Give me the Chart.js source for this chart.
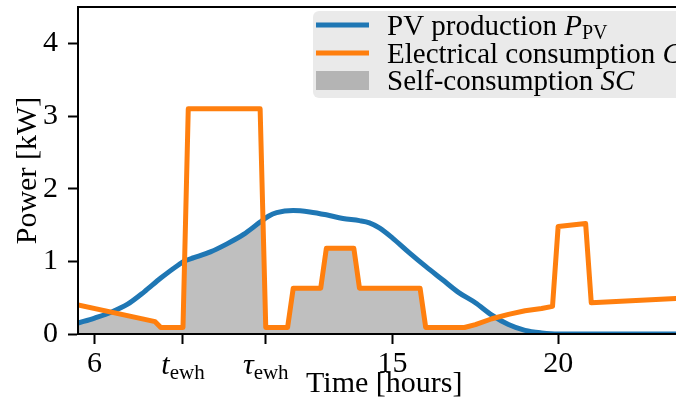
<!DOCTYPE html>
<html>
<head>
<meta charset="utf-8">
<script src="https://cdn.jsdelivr.net/npm/chart.js@4.4.1/dist/chart.umd.min.js"></script>
<style>
  html, body { margin: 0; padding: 0; background: #fff; overflow: hidden; }
  canvas { display: block; }
</style>
</head>
<body>
<canvas id="powerChart" width="700" height="405"></canvas>
<script>
// PV production (kW)
const pvTimes  = [5.5, 6.0, 6.5, 7.0, 7.5, 8.0, 8.5, 8.75, 9.0, 9.5, 10.0, 10.5, 11.0, 11.25, 11.5, 12.0, 12.5, 13.0, 13.5, 14.0, 14.3, 14.6, 15.0, 15.5, 16.0, 16.5, 17.0, 17.5, 18.0, 18.5, 19.0, 19.5, 20.0, 24.0];
const pvValues = [0.15, 0.22, 0.30, 0.41, 0.58, 0.77, 0.94, 1.01, 1.05, 1.13, 1.24, 1.37, 1.54, 1.62, 1.67, 1.70, 1.68, 1.64, 1.59, 1.56, 1.53, 1.46, 1.32, 1.12, 0.93, 0.75, 0.57, 0.43, 0.26, 0.13, 0.05, 0.015, 0.0, 0.0];

// electrical consumption (kW)
const consumptionTimes  = [5.5, 7.83, 8.0, 8.67, 8.83, 11.0, 11.17, 11.83, 12.0, 12.83, 13.0, 13.83, 14.0, 15.83, 16.0, 17.17, 17.5, 18.0, 18.5, 19.0, 19.5, 19.83, 20.0, 20.83, 21.0, 24.0];
const consumptionValues = [0.40, 0.17, 0.09, 0.09, 3.1, 3.1, 0.09, 0.09, 0.63, 0.63, 1.18, 1.18, 0.63, 0.63, 0.09, 0.09, 0.13, 0.21, 0.27, 0.32, 0.35, 0.38, 1.48, 1.52, 0.43, 0.50];

const xTickValues = [6, 8.67, 11.17, 15, 20];
const xTickLabels = ['6', 't_ewh', 'τ_ewh', '15', '20'];
const yTickValues = [0, 1, 2, 3, 4];

const legendLabels = [
    [['PV production ', 'r'], ['P', 'i'], ['PV', 'sub']],
    [['Electrical consumption ', 'r'], ['C', 'i']],
    [['Self-consumption ', 'r'], ['SC', 'i']]
];

const family = "'Liberation Serif', 'DejaVu Serif', serif";
const fontSize = 30;
const legendSize = 29;
const blue = '#1f77b4';
const orange = '#ff7f0e';
const grey = 'rgba(128, 128, 128, 0.5)';

function toPoints(xs, ys) {
    return xs.map(function (x, i) { return { x: x, y: ys[i] }; });
}

function fontFor(style, size) {
    if (style === 'i') return 'italic ' + size + 'px ' + family;
    if (style === 'sub') return Math.round(size * 0.7) + 'px ' + family;
    return size + 'px ' + family;
}

function richWidth(ctx, parts, size) {
    let w = 0;
    parts.forEach(function (p) {
        ctx.font = fontFor(p[1], size);
        w += ctx.measureText(p[0]).width;
    });
    return w;
}

function drawRich(ctx, parts, x, baseline, size) {
    let cx = x;
    ctx.textBaseline = 'alphabetic';
    ctx.textAlign = 'left';
    parts.forEach(function (p) {
        ctx.font = fontFor(p[1], size);
        const dy = p[1] === 'sub' ? size * 0.16 : 0;
        ctx.fillText(p[0], cx, baseline + dy);
        cx += ctx.measureText(p[0]).width;
    });
}

// shade only where the PV area is also under the consumption line
const scClip = {
    id: 'scClip',
    beforeDatasetsDraw(chart) {
        const pts = chart.getDatasetMeta(1).data;
        const y0 = chart.scales.y.getPixelForValue(0);
        const ctx = chart.ctx;
        ctx.save();
        ctx.beginPath();
        ctx.moveTo(pts[0].x, y0);
        pts.forEach(function (p) { ctx.lineTo(p.x, p.y); });
        ctx.lineTo(pts[pts.length - 1].x, y0);
        ctx.closePath();
        ctx.clip();
    },
    afterDatasetDraw(chart, args) {
        if (args.index === 2) chart.ctx.restore();
    }
};

const decorations = {
    id: 'decorations',
    afterDraw(chart) {
        const ctx = chart.ctx;
        const area = chart.chartArea;
        ctx.save();

        // top and right spines
        ctx.strokeStyle = '#000';
        ctx.lineWidth = 2;
        ctx.beginPath();
        ctx.moveTo(area.left - 1, area.top);
        ctx.lineTo(area.right, area.top);
        ctx.lineTo(area.right, area.bottom);
        ctx.stroke();

        // math tick labels on the time axis
        const xs = chart.scales.x;
        const labelY = xs.top + 10 + 2 + fontSize * 1.2 / 2 + fontSize * 0.3375;
        ctx.fillStyle = '#000';
        xTickLabels.forEach(function (lab, i) {
            if (lab.indexOf('_') < 0) return;
            const bits = lab.split('_');
            const parts = [[bits[0], 'i'], [bits[1], 'sub']];
            const w = richWidth(ctx, parts, fontSize);
            drawRich(ctx, parts, xs.getPixelForValue(xTickValues[i]) - w / 2, labelY, fontSize);
        });

        // legend
        const boxX = 313, boxY = 11, boxW = 420, boxH = 87;
        ctx.fillStyle = 'rgba(229, 229, 229, 0.8)';
        ctx.beginPath();
        ctx.roundRect(boxX, boxY, boxW, boxH, 6);
        ctx.fill();

        const rows = [25, 53, 80];
        const ds = chart.data.datasets;
        rows.forEach(function (ry, i) {
            if (i < 2) {
                ctx.strokeStyle = ds[i].borderColor;
                ctx.lineWidth = 5;
                ctx.beginPath();
                ctx.moveTo(316, ry);
                ctx.lineTo(369, ry);
                ctx.stroke();
            } else {
                ctx.fillStyle = ds[2].backgroundColor;
                ctx.fillRect(316, ry - 9, 53, 19);
            }
            ctx.fillStyle = '#000';
            drawRich(ctx, legendLabels[i], 387, ry + legendSize * 0.33, legendSize);
        });
        ctx.restore();
    }
};

const font = { family: family, size: fontSize };

new Chart(document.getElementById('powerChart'), {
    type: 'line',
    data: {
        datasets: [
            {
                label: 'PV production',
                data: toPoints(pvTimes, pvValues),
                borderColor: blue,
                borderWidth: 5,
                pointRadius: 0,
                cubicInterpolationMode: 'monotone',
                fill: false,
                order: 1
            },
            {
                label: 'Electrical consumption',
                data: toPoints(consumptionTimes, consumptionValues),
                borderColor: orange,
                borderWidth: 5,
                borderJoinStyle: 'round',
                pointRadius: 0,
                tension: 0,
                fill: false,
                order: 0
            },
            {
                label: 'Self-consumption',
                data: toPoints(pvTimes, pvValues),
                borderColor: 'transparent',
                borderWidth: 0,
                backgroundColor: grey,
                pointRadius: 0,
                cubicInterpolationMode: 'monotone',
                fill: 'origin',
                order: 2
            }
        ]
    },
    options: {
        responsive: false,
        animation: false,
        devicePixelRatio: 1,
        layout: { padding: { left: 0, top: 7, right: 9.4, bottom: 0 } },
        plugins: {
            legend: { display: false },
            tooltip: { enabled: false }
        },
        scales: {
            x: {
                type: 'linear',
                min: 5.5,
                max: 24,
                afterFit: function (s) { s.height = 71; s.paddingLeft = 0; s.paddingRight = 0; },
                afterBuildTicks: function (s) { s.ticks = xTickValues.map(function (v) { return { value: v }; }); },
                ticks: {
                    font: font,
                    color: '#000',
                    padding: 2,
                    autoSkip: false,
                    maxRotation: 0,
                    callback: function (v, i) { return xTickLabels[i].indexOf('_') >= 0 ? '' : xTickLabels[i]; }
                },
                grid: { drawOnChartArea: false, tickLength: 10, tickWidth: 2, tickColor: '#000' },
                border: { display: true, color: '#000', width: 2, z: 1 },
                title: { display: true, text: 'Time [hours]', font: font, color: '#000', padding: { top: 0, bottom: 3 } }
            },
            y: {
                min: 0,
                max: 4.5,
                afterFit: function (s) { s.width = 78; s.paddingTop = 0; s.paddingBottom = 0; },
                afterBuildTicks: function (s) { s.ticks = yTickValues.map(function (v) { return { value: v }; }); },
                ticks: { font: font, color: '#000', padding: 10 },
                grid: { drawOnChartArea: false, tickLength: 10, tickWidth: 2, tickColor: '#000' },
                border: { display: true, color: '#000', width: 2, z: 1 },
                title: { display: true, text: 'Power [kW]', font: font, color: '#000', padding: { top: 10, bottom: 0 } }
            }
        }
    },
    plugins: [scClip, decorations]
});
</script>
</body>
</html>
